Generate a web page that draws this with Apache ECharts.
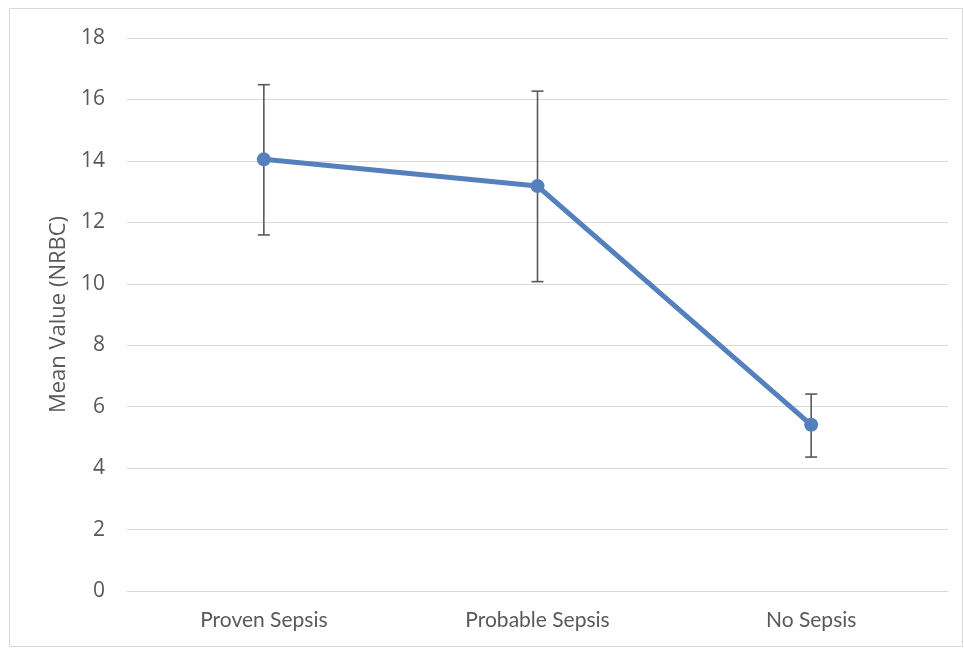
<!DOCTYPE html>
<html>
<head>
<meta charset="utf-8">
<script src="https://cdn.jsdelivr.net/npm/echarts@6/dist/echarts.min.js"></script>
<style>
html,body{margin:0;padding:0;background:#fff;}
#chart{width:964px;height:648px;}
</style>
</head>
<body>
<div id="chart"></div>
<script>
const categories = ['Proven Sepsis', 'Probable Sepsis', 'No Sepsis'];
const meanValues = [14.05, 13.18, 5.41];
const upperValues = [16.48, 16.27, 6.41];
const lowerValues = [11.59, 10.07, 4.36];
const yTicks = { min: 0, max: 18, interval: 2 };

const errorData = categories.map((c, i) => [i, lowerValues[i], upperValues[i]]);

const chart = echarts.init(document.getElementById('chart'));
chart.setOption({
  animation: false,
  backgroundColor: '#fff',
  graphic: [{
    type: 'rect',
    shape: { x: 9.5, y: 8.5, width: 953, height: 638 },
    style: { fill: 'none', stroke: '#d9d9d9', lineWidth: 1 },
    silent: true
  }],
  grid: { left: 127, right: 16, top: 38, bottom: 57, containLabel: false },
  xAxis: {
    type: 'category',
    data: categories,
    boundaryGap: true,
    axisLine: { lineStyle: { color: '#d9d9d9', width: 1 } },
    axisTick: { show: false },
    axisLabel: {
      color: '#595959',
      fontSize: 21,
      fontFamily: "Lato, sans-serif",
      margin: 19
    }
  },
  yAxis: {
    type: 'value',
    min: yTicks.min,
    max: yTicks.max,
    interval: yTicks.interval,
    name: 'Mean Value (NRBC)',
    nameLocation: 'middle',
    nameRotate: 90,
    nameGap: 57,
    nameTextStyle: { color: '#595959', fontSize: 22, fontFamily: "'Open Sans', sans-serif" },
    axisLine: { show: false },
    axisTick: { show: false },
    axisLabel: { color: '#595959', fontSize: 21, fontFamily: "'Open Sans', sans-serif", margin: 22 },
    splitLine: { lineStyle: { color: '#d9d9d9', width: 1 } }
  },
  series: [
    {
      type: 'custom',
      z: 1,
      data: errorData,
      renderItem: function (params, api) {
        const x = api.value(0);
        const lo = api.coord([x, api.value(1)]);
        const hi = api.coord([x, api.value(2)]);
        const hw = 6;
        const st = { stroke: '#595959', lineWidth: 1.6 };
        return {
          type: 'group',
          children: [
            { type: 'line', shape: { x1: hi[0], y1: hi[1], x2: lo[0], y2: lo[1] }, style: st },
            { type: 'line', shape: { x1: hi[0] - hw, y1: hi[1], x2: hi[0] + hw, y2: hi[1] }, style: st },
            { type: 'line', shape: { x1: lo[0] - hw, y1: lo[1], x2: lo[0] + hw, y2: lo[1] }, style: st }
          ]
        };
      }
    },
    {
      type: 'line',
      z: 3,
      data: meanValues,
      symbol: 'circle',
      symbolSize: 14,
      lineStyle: { color: '#5580be', width: 5 },
      itemStyle: { color: '#5580be' }
    }
  ]
});
</script>
</body>
</html>
